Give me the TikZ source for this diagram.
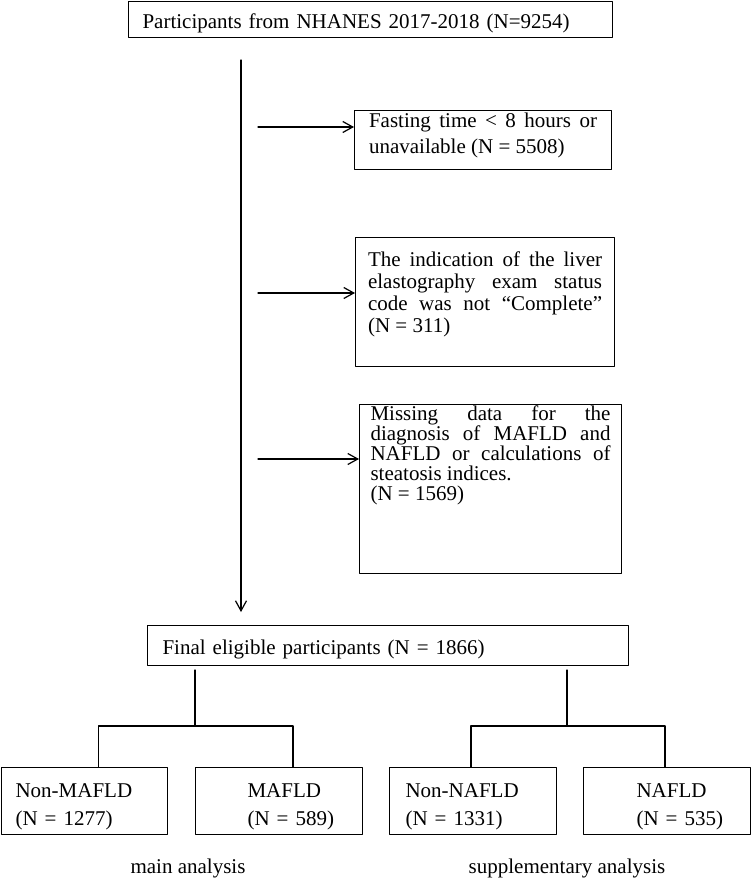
\documentclass[tikz,border=0pt]{standalone}
\usepackage{fontspec}
\setmainfont{Liberation Serif}
\usepackage{tikz}
\usetikzlibrary{arrows.meta}

\begin{document}
\begin{tikzpicture}[line cap=round,line join=round,>={Straight Barb[length=10pt,width=11pt]},x=1pt,y=-1pt,
        box/.style={draw,line width=1.1pt,anchor=north west,inner ysep=0pt,inner xsep=#1},
        box/.default=14pt,
        link/.style={line width=1.2pt}]
        \useasboundingbox (0,0) rectangle (751,880);
        \fontsize{21}{22}\selectfont
        \node [box=14pt,text width=456pt,align=left,text height=27pt,text depth=9pt] (nhanes) at (128,1) {Participants from NHANES 2017-2018 (N=9254)};
        \node [box=14.5pt,text width=228pt,align=justify,text height=17pt,text depth=42pt,font=\fontsize{21}{26}\selectfont] (fasting) at (354,110) {Fasting time < 8 hours or\linebreak unavailable (N = 5508)};
        \node [box=12.5pt,text width=234pt,align=justify,text height=29pt,text depth=100pt,font=\fontsize{21}{22}\selectfont] (elasto) at (355,237) {The indication of the liver\linebreak elastography exam status\linebreak code was not “Complete”\linebreak (N = 311)};
        \node [box=11pt,text width=240pt,align=justify,text height=16pt,text depth=153pt,font=\fontsize{21}{20}\selectfont] (missing) at (359,404) {Missing data for the\linebreak diagnosis of MAFLD and\linebreak NAFLD or calculations of\linebreak steatosis indices.\\(N = 1569)};
        \node [box=15pt,text width=451pt,align=left,text height=29pt,text depth=11pt] (final) at (147,625) {Final eligible participants (N = 1866)};
        \node [box,text width=138pt,align=left,text height=30pt,text depth=37pt,font=\fontsize{21}{28}\selectfont] (nonmafld) at (1,767) {Non-MAFLD\\(N = 1277)};
        \node [box,text width=139pt,align=left,text height=30pt,text depth=37pt,font=\fontsize{21}{28}\selectfont] (mafld) at (195,767) {\hspace*{38pt}MAFLD\\\hspace*{38pt}(N = 589)};
        \node [box,text width=139pt,align=left,text height=30pt,text depth=37pt,font=\fontsize{21}{28}\selectfont] (nonnafld) at (389,767) {\hspace*{2pt}Non-NAFLD\\\hspace*{2pt}(N = 1331)};
        \node [box,text width=139pt,align=left,text height=30pt,text depth=37pt,font=\fontsize{21}{28}\selectfont] (nafld) at (583,767) {\hspace*{39pt}NAFLD\\\hspace*{39pt}(N = 535)};
        \node [anchor=base] (mainlbl) at (188,873) {main analysis};
        \node [anchor=base] (supplbl) at (567,873) {supplementary analysis};
        % main flow
        \coordinate (start) at (241,60);
        \draw [link,->,shorten >=13pt] (start) -- (start |- final.north);
        \coordinate (ex1) at (258,127);
        \coordinate (ex2) at (258,293);
        \coordinate (ex3) at (258,459);
        \draw [link,->] (ex1) -- (ex1 -| fasting.west);
        \draw [link,->] (ex2) -- (ex2 -| elasto.west);
        \draw [link,->] (ex3) -- (ex3 -| missing.west);
        % split
        \coordinate (mtop) at (195,670);
        \coordinate (mbar) at (195,726);
        \coordinate (stop) at (567,670);
        \coordinate (sbar) at (567,726);
        \draw [link] (mtop) -- (mbar);
        \draw [link] ([xshift=14pt]nonmafld.north) |- ([xshift=14pt]mafld.north |- mbar) -- ([xshift=14pt]mafld.north);
        \draw [link] (stop) -- (sbar);
        \draw [link] ([xshift=-2pt]nonnafld.north) |- ([xshift=-2pt]nafld.north |- sbar) -- ([xshift=-2pt]nafld.north);
\end{tikzpicture}
\end{document}
